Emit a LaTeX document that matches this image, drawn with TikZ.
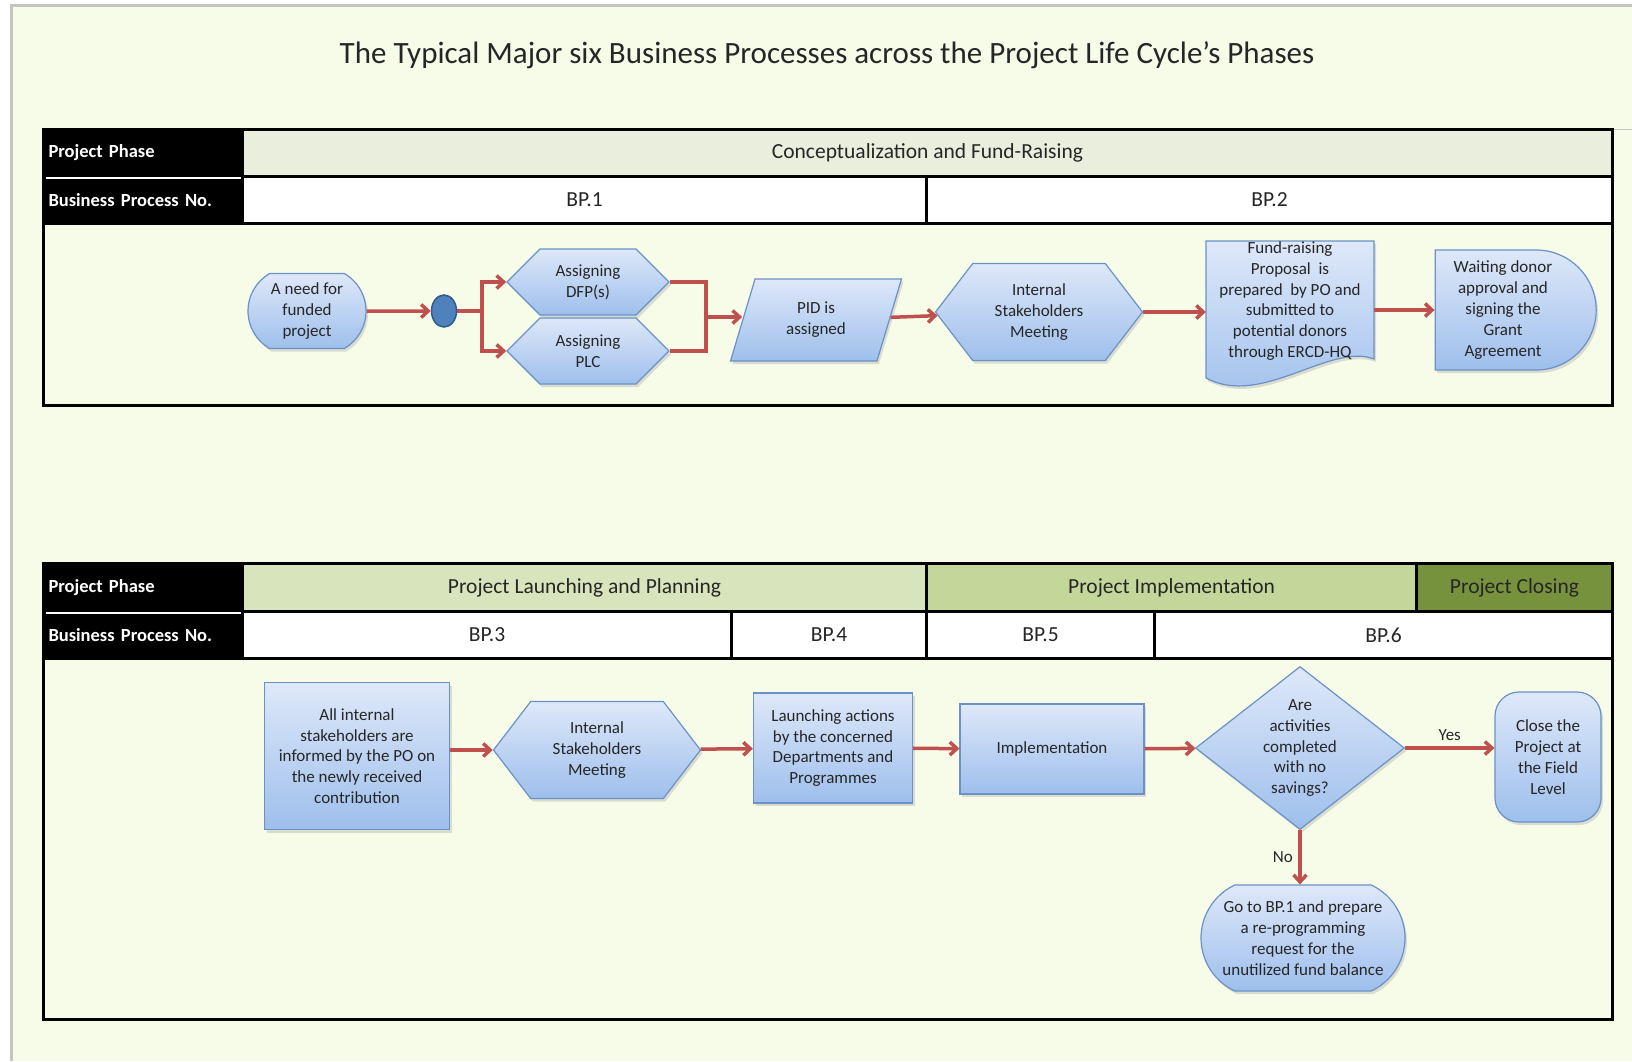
\documentclass[tikz,border=0pt]{standalone}
\usepackage{fontspec}
\setmainfont{Carlito}
\usetikzlibrary{positioning,calc,shapes.geometric,shapes.symbols,shapes.misc,shadows,arrows.meta}

\definecolor{pagebg}{HTML}{F7FCE9}
\definecolor{framegray}{HTML}{C4C4C4}
\definecolor{concept}{HTML}{EAEFDD}
\definecolor{launchcol}{HTML}{D8E4BC}
\definecolor{implcol}{HTML}{C4D79B}
\definecolor{closecol}{HTML}{76923C}
\definecolor{boxtop}{HTML}{DEE8F9}
\definecolor{boxbot}{HTML}{9EBFEC}
\definecolor{boxline}{HTML}{6A92C8}
\definecolor{flowred}{HTML}{C0504D}
\definecolor{dotblue}{HTML}{4F81BD}
\definecolor{dotline}{HTML}{2F5A8C}

\newcommand{\boxfont}{\fontsize{17}{20.8}\selectfont}
\newcommand{\hdrfont}{\fontsize{21.5}{25}\selectfont}
\newcommand{\labfont}{\fontsize{18.5}{22}\selectfont\bfseries}

\begin{document}
\begin{tikzpicture}[x=1pt, y=-1pt, >={Straight Barb[length=7pt,width=13pt]},
    cell/.style={draw=black, line width=3pt, anchor=north west, inner sep=0pt, font=\hdrfont, text=black!85},
    labcell/.style={cell, fill=black, text=white, font=\labfont, align=left, text width=189pt, minimum width=199pt, inner sep=5pt},
    procfill/.style={draw=boxline, line width=1.2pt, top color=boxtop, bottom color=boxbot,
      drop shadow={shadow xshift=2pt, shadow yshift=-3pt, opacity=0.25}},
    proc/.style={procfill, align=center, font=\boxfont, text=black!85, inner sep=2pt},
    hexa/.style={signal, signal to=east and west, signal pointer angle=90},
    flow/.style={->, draw=flowred, line width=3.5pt},
    link/.style={draw=flowred, line width=3.5pt}]

  \useasboundingbox (0,0) rectangle (1632,1061);
  \fill[white] (0,0) rectangle (1632,1061);
  \fill[pagebg] (11,5) rectangle (1632,1061);
  \draw[framegray, line width=3pt] (11,1061) -- (11,5) -- (1632,5);
  \draw[framegray, line width=1pt] (1611,129) -- (1632,129);

  \node[font=\fontsize{31}{36}\selectfont, text=black!85] (title) at (827,55)
    {The Typical Major six Business Processes across the Project Life Cycle's Phases};

  % first table
  \node[labcell, minimum height=47pt] (phaselab1) at (42,128) {Project Phase};
  \node[labcell, minimum height=47pt] (bplab1) at (42,175) {Business Process No.};
  \node[cell, fill=concept, minimum width=1370pt, minimum height=47pt] (phase1) at (241,128) {Conceptualization and Fund-Raising};
  \node[cell, fill=white, minimum width=684pt, minimum height=47pt] (bp1) at (241,175) {BP.1};
  \node[cell, fill=white, minimum width=686pt, minimum height=47pt] (bp2) at (925,175) {BP.2};
  \node[cell, minimum width=1569pt, minimum height=182pt] (lane1) at (42,222) {};
  \draw[white, line width=2.5pt] ([xshift=4pt]phaselab1.south west) -- ([xshift=-3pt]phaselab1.south east);

  % second table
  \node[labcell, minimum height=48pt] (phaselab2) at (42,562) {Project Phase};
  \node[labcell, minimum height=47pt] (bplab2) at (42,610) {Business Process No.};
  \node[cell, fill=launchcol, minimum width=684pt, minimum height=48pt] (phase2) at (241,562) {Project Launching and Planning};
  \node[cell, fill=implcol, minimum width=490pt, minimum height=48pt] (phase3) at (925,562) {Project Implementation};
  \node[cell, fill=closecol, minimum width=196pt, minimum height=48pt] (phase4) at (1415,562) {Project Closing};
  \node[cell, fill=white, minimum width=489pt, minimum height=47pt] (bp3) at (241,610) {BP.3};
  \node[cell, fill=white, minimum width=195pt, minimum height=47pt] (bp4) at (730,610) {BP.4};
  \node[cell, fill=white, minimum width=228pt, minimum height=47pt] (bp5) at (925,610) {BP.5};
  \node[cell, fill=white, minimum width=458pt, minimum height=47pt] (bp6) at (1153,610) {BP.6};
  \node[cell, minimum width=1569pt, minimum height=361pt] (lane2) at (42,657) {};
  \draw[white, line width=2.5pt] ([xshift=4pt]phaselab2.south west) -- ([xshift=-3pt]phaselab2.south east);

  % BP.1 and BP.2
  \node[proc, rounded rectangle, rounded rectangle arc length=120, minimum width=122pt, minimum height=75pt] (need) at (307,311) {A need for\\funded\\project};
  \node[ellipse, fill=dotblue, draw=dotline, line width=1.5pt, minimum width=25pt, minimum height=32pt, inner sep=0pt] (dot) at (444,311) {};
  \node[proc, hexa, minimum width=162pt, minimum height=66pt] (dfp) at (588,282) {Assigning\\DFP(s)};
  \node[proc, hexa, minimum width=162pt, minimum height=66pt] (plc) at (588,351) {Assigning\\PLC};
  \node[proc, trapezium, trapezium left angle=72, trapezium right angle=108, trapezium stretches=true,
    minimum width=171pt, minimum height=82pt] (pid) at (816,320) {PID is\\assigned};
  \node[proc, hexa, signal pointer angle=105, minimum width=207pt, minimum height=97pt] (meet1) at (1039,312) {Internal\\Stakeholders\\Meeting};
  \path[procfill] (1206,241) -- (1374,241) -- (1374,359) .. controls (1330,342) and (1262,408) .. (1206,378) -- cycle;
  \node[align=center, font=\boxfont, text=black!85, minimum width=168pt, minimum height=118pt, inner sep=0pt] (prop) at (1290,301)
    {Fund-raising\\Proposal\ \ is\\prepared\ \ by PO and\\submitted to\\potential donors\\through ERCD-HQ};
  \node[proc, rounded rectangle, rounded rectangle west arc=none, minimum width=165pt, minimum height=120pt] (wait) at (1503,310)
    {Waiting donor\\approval and\\signing the\\Grant\\Agreement};

  \coordinate (fork) at (482,311);
  \coordinate (join) at (706,317);
  \draw[flow] (need) -- (dot);
  \draw[link] (dot) -- (fork);
  \draw[flow] (fork) |- (dfp.west);
  \draw[flow] (fork) |- (plc.west);
  \draw[link] (dfp.east) -| (join);
  \draw[link] (plc.east) -| (join);
  \draw[flow] (join) -- (join -| pid.west);
  \draw[flow] (pid) -- (meet1);
  \draw[flow] (meet1.east) -- (meet1.east -| prop.west);
  \draw[flow] (prop.east |- wait.west) -- (wait.west);

  % BP.3 to BP.6
  \node[proc, minimum width=185pt, minimum height=147pt] (inform) at (357,756)
    {All internal\\stakeholders are\\informed by the PO on\\the newly received\\contribution};
  \node[proc, hexa, signal pointer angle=105, minimum width=207pt, minimum height=97pt] (meet2) at (597,750) {Internal\\Stakeholders\\Meeting};
  \node[proc, minimum width=159pt, minimum height=110pt] (launch) at (833,748) {Launching actions\\by the concerned\\Departments and\\Programmes};
  \node[proc, minimum width=184pt, minimum height=90pt] (impl) at (1052,749) {Implementation};
  \node[proc, diamond, aspect=1.28, minimum width=209pt, minimum height=163pt, inner sep=0pt] (check) at (1300,748)
    {Are\\activities\\completed\\with no\\savings?};
  \node[proc, rounded corners=24pt, minimum width=106pt, minimum height=130pt] (close) at (1548,757)
    {Close the\\Project at\\the Field\\Level};
  \node[proc, rounded rectangle, rounded rectangle arc length=130, minimum width=208pt, minimum height=106pt] (goto) at (1303,938)
    {Go to BP.1 and prepare\\a re-programming\\request for the\\unutilized fund balance};

  \draw[flow] (inform.east |- meet2.west) -- (meet2.west);
  \draw[flow] (meet2) -- (launch);
  \draw[flow] (launch) -- (impl);
  \draw[flow] (impl) -- (check);
  \draw[flow] (check.east) -- node[above=2pt, font=\boxfont, text=black!85] (yes) {Yes} (check.east -| close.west);
  \draw[flow] (check.south) -- node[left=2pt, font=\boxfont, text=black!85] (no) {No} (check.south |- goto.north);
\end{tikzpicture}
\end{document}
